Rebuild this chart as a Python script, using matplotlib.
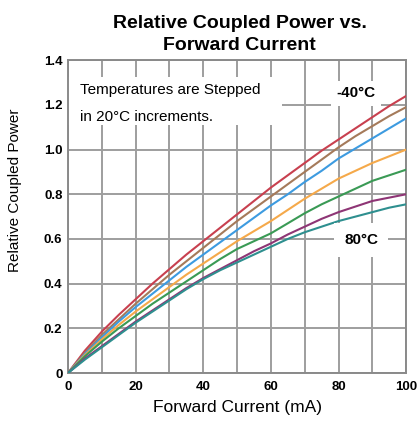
import matplotlib.pyplot as plt
from matplotlib.patches import Rectangle
from matplotlib.ticker import MultipleLocator, FuncFormatter

# forward current (mA) and relative coupled power, one series per temperature
current = [0, 5, 10, 15, 20, 25, 30, 35, 40, 45, 50, 55, 60, 65, 70, 75, 80, 85, 90, 95, 100]
temps = ["-40", "-20", "0", "20", "40", "60", "80"]
p_m40 = [0, 0.10, 0.185, 0.26, 0.33, 0.40, 0.465, 0.53, 0.59, 0.65, 0.71,
         0.77, 0.83, 0.885, 0.94, 0.995, 1.045, 1.095, 1.145, 1.195, 1.24]
p_m20 = [0, 0.09, 0.17, 0.24, 0.31, 0.375, 0.44, 0.50, 0.56, 0.62, 0.68,
         0.735, 0.79, 0.845, 0.90, 0.955, 1.01, 1.06, 1.105, 1.15, 1.19]
p_0 = [0, 0.085, 0.16, 0.23, 0.295, 0.355, 0.415, 0.475, 0.53, 0.585, 0.64,
       0.695, 0.75, 0.80, 0.855, 0.905, 0.96, 1.005, 1.05, 1.095, 1.14]
p_20 = [0, 0.08, 0.15, 0.215, 0.275, 0.33, 0.385, 0.44, 0.49, 0.54, 0.59,
        0.635, 0.68, 0.73, 0.78, 0.825, 0.87, 0.905, 0.94, 0.97, 1.00]
p_40 = [0, 0.075, 0.14, 0.20, 0.255, 0.31, 0.36, 0.41, 0.46, 0.51, 0.555,
        0.59, 0.625, 0.67, 0.715, 0.755, 0.79, 0.825, 0.86, 0.885, 0.91]
p_60 = [0, 0.065, 0.12, 0.175, 0.23, 0.28, 0.33, 0.38, 0.425, 0.465, 0.505,
        0.545, 0.58, 0.62, 0.655, 0.69, 0.72, 0.745, 0.77, 0.785, 0.80]
p_80 = [0, 0.06, 0.115, 0.17, 0.225, 0.275, 0.325, 0.375, 0.42, 0.46, 0.495,
        0.53, 0.565, 0.60, 0.63, 0.655, 0.68, 0.70, 0.72, 0.74, 0.755]

series = [p_m40, p_m20, p_0, p_20, p_40, p_60, p_80]
colors = ["#c8404f", "#a57a5a", "#3d9be0", "#f5a94a", "#3a9a55", "#8e3575", "#2e8f8f"]

plt.rcParams['font.family'] = ['Liberation Sans', 'DejaVu Sans']

fig = plt.figure(figsize=(4.17, 4.21), dpi=100)
ax = fig.add_axes([0.163, 0.114, 0.811, 0.743])

for ys, c in zip(series, colors):
    ax.plot(current, ys, color=c, lw=1.5, zorder=3)

ax.set_xlim(0, 100)
ax.set_ylim(0, 1.4)
ax.xaxis.set_major_locator(MultipleLocator(20))
ax.xaxis.set_minor_locator(MultipleLocator(10))
ax.yaxis.set_major_locator(MultipleLocator(0.2))
ax.yaxis.set_major_formatter(FuncFormatter(lambda v, p: "0" if abs(v) < 1e-9 else "%.1f" % v))
ax.grid(which='both', color='#9e9e9e', lw=1.4, zorder=0)
ax.tick_params(which='both', length=0, labelsize=9.5)
ax.tick_params(axis='y', pad=4)
ax.tick_params(axis='x', pad=6)
for lbl in ax.get_xticklabels() + ax.get_yticklabels():
    lbl.set_fontweight('bold')
for s in ax.spines.values():
    s.set_color('#8a8a8a')
    s.set_linewidth(1.4)

ax.set_xlabel("Forward Current (mA)", fontsize=12.5, labelpad=5)
ax.set_ylabel("Relative Coupled Power", fontsize=11)
ax.yaxis.set_label_coords(-0.135, 0.585)
fig.suptitle("Relative Coupled Power vs.\nForward Current", fontsize=14,
             fontweight='bold', x=0.575, y=0.965, linespacing=1.4)

# white panel behind the note so the grid does not run through it
ax.add_patch(Rectangle((0, 1.109), 63.3, 0.215, facecolor='white', edgecolor='none', zorder=2))
ax.text(3.5, 1.266, "Temperatures are Stepped", fontsize=11, va='center', zorder=4)
ax.text(3.5, 1.145, "in 20°C increments.", fontsize=11, va='center', zorder=4)
ax.text(85.2, 1.252, temps[0] + "°C", fontsize=11, fontweight='bold', ha='center', va='center',
        bbox=dict(facecolor='white', edgecolor='none', pad=4), zorder=4)
ax.text(86.7, 0.595, temps[-1] + "°C", fontsize=11, fontweight='bold', ha='center', va='center',
        bbox=dict(facecolor='white', edgecolor='none', pad=7), zorder=4)

fig.savefig("out.png", dpi=100)
